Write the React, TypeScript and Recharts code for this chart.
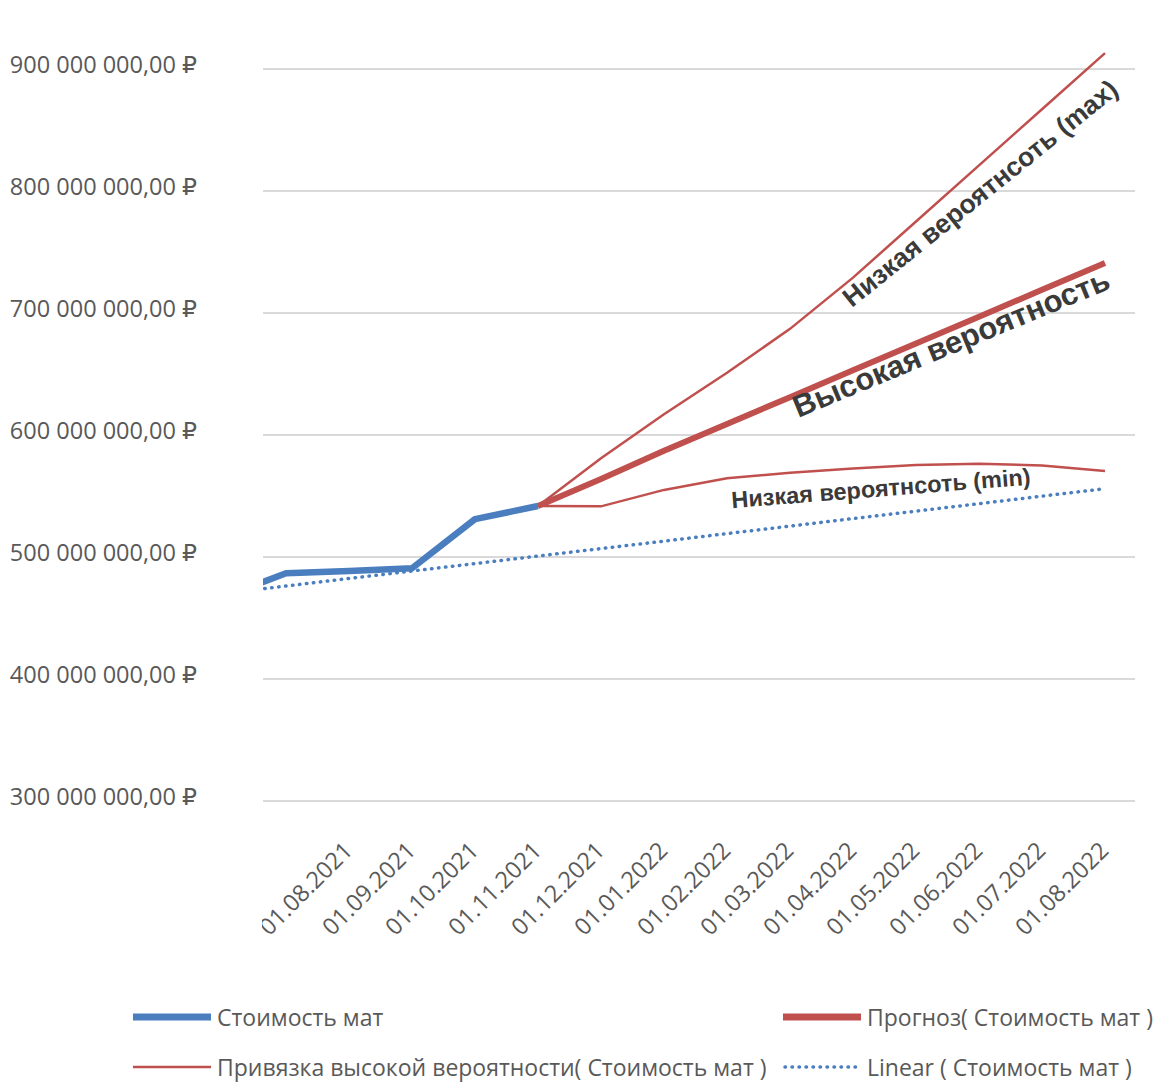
import React from 'react';
import { LineChart, Line, XAxis, YAxis, CartesianGrid, ReferenceDot } from 'recharts';

// Dates (index 0 = 01.06.2021, partly outside the visible plot)
const dates = [
  '01.06.2021', '01.07.2021', '01.08.2021', '01.09.2021', '01.10.2021', '01.11.2021',
  '01.12.2021', '01.01.2022', '01.02.2022', '01.03.2022', '01.04.2022', '01.05.2022',
  '01.06.2022', '01.07.2022', '01.08.2022',
];

// values in millions of rubles
const cost: (number | null)[] = [467, 486.7, 488.6, 490.8, 531, 541.8, null, null, null, null, null, null, null, null, null];
const forecast: (number | null)[] = [null, null, null, null, null, 541.8, 564, 587, 609, 631, 653, 675, 697, 719, 741];
const highMax: (number | null)[] = [null, null, null, null, null, 541.8, 581, 617, 651, 687, 729, 775, 821, 867, 913];
const highMin: (number | null)[] = [null, null, null, null, null, 541.8, 541.5, 555, 564.5, 569, 572.5, 575.5, 576.5, 575, 570.5];
const trend: number[] = [470.1, 476.2, 482.4, 488.5, 494.6, 500.8, 506.9, 513.0, 519.2, 525.3, 531.5, 537.6, 543.7, 549.9, 556.0];

const yTicks = [300, 400, 500, 600, 700, 800, 900];
const xTicks = [2, 3, 4, 5, 6, 7, 8, 9, 10, 11, 12, 13, 14];

const annotationTexts = ['Низкая вероятнсоть (max)', 'Высокая вероятность', 'Низкая вероятнсоть (min)'];
const annotationAt = [
  { idx: 9.98, value: 704 },
  { idx: 9.13, value: 614 },
  { idx: 8.08, value: 540 },
];
const annotationStyle = [
  { angle: -38.8, size: 26.5 },
  { angle: -22.5, size: 31 },
  { angle: -4.5, size: 23.5 },
];

const legendItems = [
  { name: 'Стоимость мат', color: '#4a7ebf', width: 7, dash: undefined as string | undefined },
  { name: 'Прогноз( Стоимость мат )', color: '#c0504d', width: 7, dash: undefined as string | undefined },
  { name: 'Привязка высокой вероятности( Стоимость мат )', color: '#c0504d', width: 2.5, dash: undefined as string | undefined },
  { name: 'Linear ( Стоимость мат )', color: '#4a7ebf', width: 3.5, dash: '0.5 6.5' },
];

const M = 1e6;
const toRub = (v: number | null) => (v == null ? null : v * M);

const data = dates.map((d, i) => ({
  idx: i,
  date: d,
  cost: toRub(cost[i]),
  forecast: toRub(forecast[i]),
  highMax: toRub(highMax[i]),
  highMin: toRub(highMin[i]),
  trend: toRub(trend[i]),
}));

const fmtRub = (v: number) =>
  Math.round(v).toString().replace(/\B(?=(\d{3})+(?!\d))/g, ' ') + ',00 ₽';

const AXIS_FONT = '"Open Sans", "DejaVu Sans", sans-serif';
const ANN_FONT = '"Liberation Sans", Arial, sans-serif';
const TEXT_COLOR = '#595959';

const YTick = (props: any) => {
  const { x, y, payload } = props;
  return (
    <text x={x} y={y + 4} textAnchor="end" fill={TEXT_COLOR} fontSize={23.5} fontFamily={AXIS_FONT}>
      {fmtRub(payload.value)}
    </text>
  );
};

const XTick = (props: any) => {
  const { x, y, payload, index } = props;
  const id = `xclip-${index}`;
  return (
    <g>
      <defs>
        <clipPath id={id}>
          <rect x={254} y={0} width={2000} height={2000} />
        </clipPath>
      </defs>
      <g clipPath={`url(#${id})`}>
        <text
          transform={`translate(${x + 5},${y + 51}) rotate(-45)`}
          textAnchor="end"
          fill={TEXT_COLOR}
          fontSize={23.5}
          fontFamily={AXIS_FONT}
        >
          {dates[payload.value]}
        </text>
      </g>
    </g>
  );
};

const makeAnnLabel = (i: number) => (p: any) => {
  const vb = p.viewBox || {};
  const cx = (vb.x ?? 0) + (vb.width ?? 0) / 2;
  const cy = (vb.y ?? 0) + (vb.height ?? 0) / 2;
  const st = annotationStyle[i];
  return (
    <text
      transform={`translate(${cx},${cy}) rotate(${st.angle})`}
      textAnchor="start"
      fill="#3a3a3a"
      fontSize={st.size}
      fontWeight="bold"
      fontFamily={ANN_FONT}
    >
      {annotationTexts[i]}
    </text>
  );
};

const LegendRow = ({ item }: { item: typeof legendItems[number] }) => (
  <div style={{ display: 'flex', alignItems: 'center' }}>
    <svg width={82} height={12} style={{ marginRight: 4 }}>
      <line
        x1={item.dash ? 4 : 2}
        y1={6}
        x2={item.dash ? 78 : 80}
        y2={6}
        stroke={item.color}
        strokeWidth={item.width}
        strokeDasharray={item.dash}
        strokeLinecap={item.dash ? 'round' : 'butt'}
      />
    </svg>
    <span style={{ fontFamily: AXIS_FONT, fontSize: 23, color: TEXT_COLOR, whiteSpace: 'nowrap' }}>{item.name}</span>
  </div>
);

export default function App() {
  return (
    <div style={{ position: 'relative', width: 1162, height: 1075, background: '#fff' }}>
      <LineChart width={1162} height={960} data={data} margin={{ top: 0, right: 35, bottom: 0, left: 0 }}>
        <CartesianGrid
          vertical={false}
          horizontalValues={yTicks.map((t) => t * M)}
          stroke="#d9d9d9"
          strokeWidth={2}
        />
        <XAxis
          type="number"
          dataKey="idx"
          domain={[0.635, 14.476]}
          allowDataOverflow
          ticks={xTicks}
          interval={0}
          height={167}
          axisLine={false}
          tickLine={false}
          tickSize={0}
          tickMargin={0}
          tick={<XTick />}
        />
        <YAxis
          type="number"
          domain={[300 * M, 950 * M]}
          ticks={yTicks.map((t) => t * M)}
          width={255}
          axisLine={false}
          tickLine={false}
          tickSize={0}
          tickMargin={66}
          tick={<YTick />}
        />
        <Line dataKey="trend" stroke="#4a7ebf" strokeWidth={3.5} strokeDasharray="0.5 6.5" strokeLinecap="round" dot={false} isAnimationActive={false} />
        <Line dataKey="highMin" stroke="#c0504d" strokeWidth={2.5} dot={false} isAnimationActive={false} />
        <Line dataKey="highMax" stroke="#c0504d" strokeWidth={2.5} dot={false} isAnimationActive={false} />
        <Line dataKey="forecast" stroke="#c0504d" strokeWidth={6} dot={false} isAnimationActive={false} strokeLinejoin="round" />
        <Line dataKey="cost" stroke="#4a7ebf" strokeWidth={6.5} dot={false} isAnimationActive={false} strokeLinejoin="round" />
        {annotationAt.map((a, i) => (
          <ReferenceDot key={i} x={a.idx} y={a.value * M} r={0} fill="none" stroke="none" label={makeAnnLabel(i)} />
        ))}
      </LineChart>
      <div style={{ position: 'absolute', left: 1159, top: -3, width: 2, height: 962, background: '#d4d4d4' }} />
      <div style={{ position: 'absolute', left: 123, top: 993, width: 1040 }}>
        <div style={{ position: 'absolute', left: 0, top: 0 }}><LegendRow item={legendItems[0]} /></div>
        <div style={{ position: 'absolute', left: 650, top: 0 }}><LegendRow item={legendItems[1]} /></div>
        <div style={{ position: 'absolute', left: 0, top: 50 }}><LegendRow item={legendItems[2]} /></div>
        <div style={{ position: 'absolute', left: 650, top: 50 }}><LegendRow item={legendItems[3]} /></div>
      </div>
    </div>
  );
}
